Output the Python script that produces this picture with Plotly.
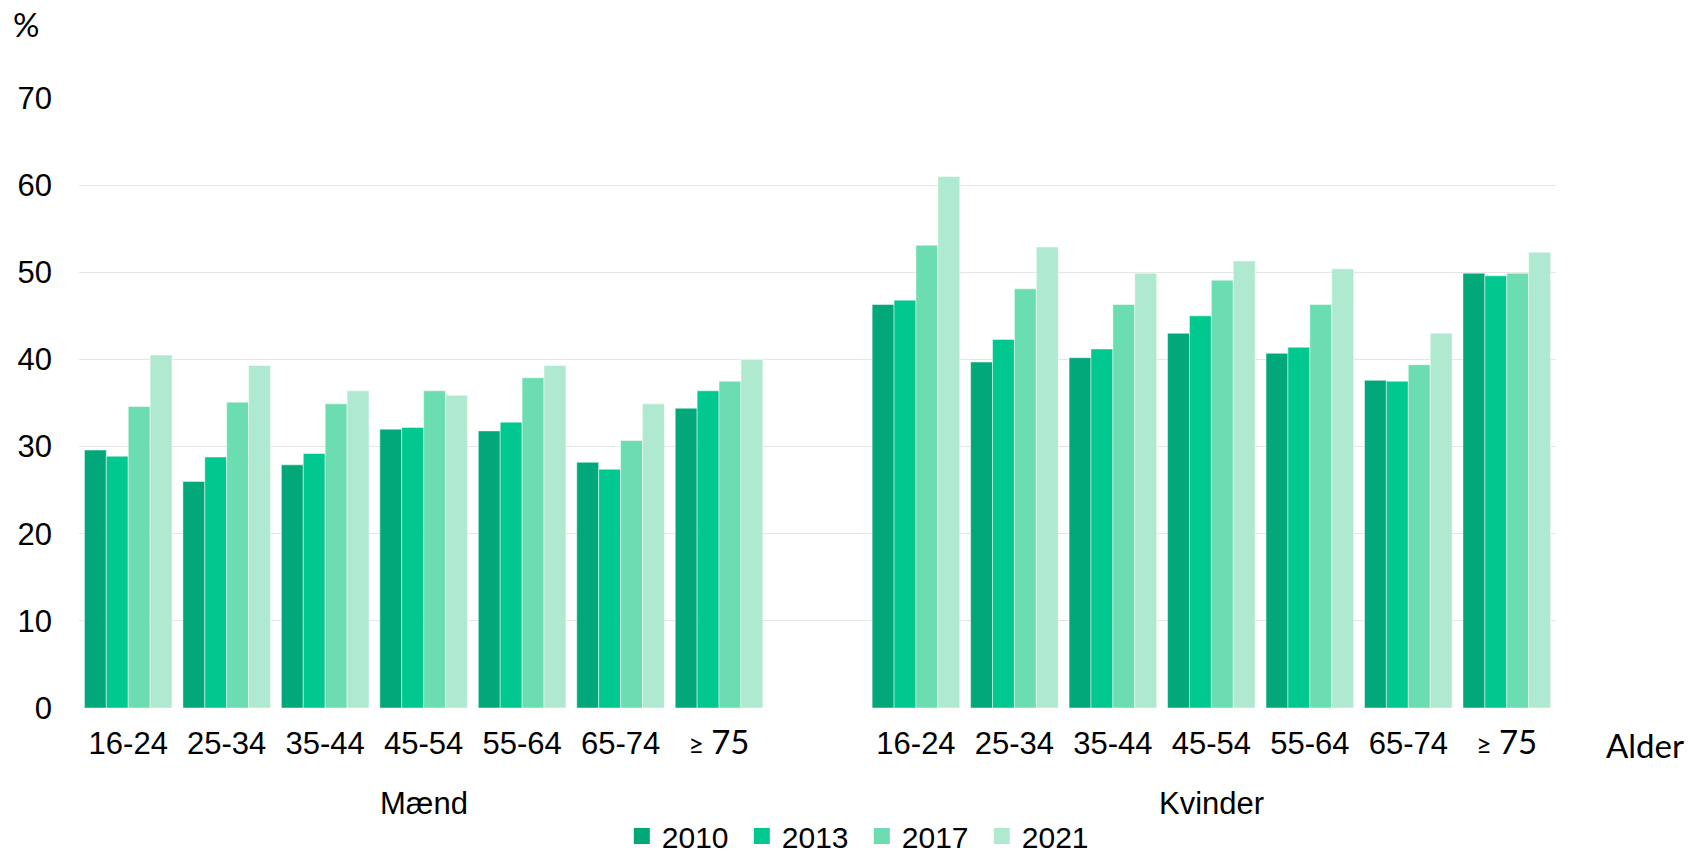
import plotly.graph_objects as go

# Age bands shown for each sex
ages = ["16-24", "25-34", "35-44", "45-54", "55-64", "65-74", "≥ 75"]
sexes = ["Mænd", "Kvinder"]
years = ["2010", "2013", "2017", "2021"]

# Share (%) by survey year, men
maend_2010 = [29.6, 26.0, 27.9, 32.0, 31.8, 28.2, 34.4]
maend_2013 = [28.9, 28.8, 29.2, 32.2, 32.8, 27.4, 36.4]
maend_2017 = [34.6, 35.1, 34.9, 36.4, 37.9, 30.7, 37.5]
maend_2021 = [40.5, 39.3, 36.4, 35.9, 39.3, 34.9, 40.0]

# Share (%) by survey year, women
kvinder_2010 = [46.3, 39.7, 40.2, 43.0, 40.7, 37.6, 49.9]
kvinder_2013 = [46.8, 42.3, 41.2, 45.0, 41.4, 37.5, 49.6]
kvinder_2017 = [53.1, 48.1, 46.3, 49.1, 46.3, 39.4, 49.9]
kvinder_2021 = [61.0, 52.9, 49.9, 51.3, 50.4, 43.0, 52.3]

y_ticks = [0, 10, 20, 30, 40, 50, 60, 70]

colors = ["#02A87A", "#00C88E", "#6BDDB0", "#AFEAD0"]

series = {
    "2010": maend_2010 + kvinder_2010,
    "2013": maend_2013 + kvinder_2013,
    "2017": maend_2017 + kvinder_2017,
    "2021": maend_2021 + kvinder_2021,
}

# Men on slots 0..6, one empty slot, women on slots 8..14
n = len(ages)
x_pos = list(range(n)) + [n + 1 + i for i in range(n)]


def tick_label(a):
    if a.startswith("≥"):
        return ("<span style='font-family:Lato;font-size:27px'>≥ </span>"
                "<span style='font-family:Lato;font-size:33px'>75</span>")
    return a


tick_text = [tick_label(a) for a in ages] * 2

fig = go.Figure()
for yr, col in zip(years, colors):
    fig.add_trace(go.Bar(
        x=x_pos,
        y=series[yr],
        name=yr,
        legendgroup=yr,
        showlegend=False,
        marker=dict(color=col, line=dict(color="rgba(255,255,255,0.6)", width=0.8)),
    ))
    # legend key drawn as a larger square swatch
    fig.add_trace(go.Scatter(
        x=[None], y=[None],
        mode="markers",
        name=yr,
        legendgroup=yr,
        marker=dict(symbol="square", size=16, color=col),
        hoverinfo="skip",
    ))

AXIS_FONT = dict(family="Liberation Sans, Arial, sans-serif", size=31, color="#000000")

fig.update_layout(
    width=1693,
    height=853,
    margin=dict(l=79, r=137, t=98, b=145, autoexpand=False),
    paper_bgcolor="white",
    plot_bgcolor="white",
    barmode="group",
    bargap=0.11,
    bargroupgap=0,
    font=AXIS_FONT,
    showlegend=True,
    legend=dict(
        orientation="h",
        x=0.530,
        xanchor="center",
        y=-0.210,
        yanchor="middle",
        font=dict(family="Liberation Sans, Arial, sans-serif", size=30, color="#000000"),
        itemwidth=30,
        entrywidth=75,
        entrywidthmode="pixels",
        traceorder="normal",
    ),
    xaxis=dict(
        range=[-0.5, 2 * n + 0.5],
        tickmode="array",
        tickvals=x_pos,
        ticktext=tick_text,
        showgrid=False,
        zeroline=False,
        showline=False,
        ticks="",
        ticklabelstandoff=14,
        tickfont=AXIS_FONT,
    ),
    yaxis=dict(
        range=[0, 70],
        tickmode="array",
        tickvals=y_ticks,
        showgrid=True,
        gridcolor="#E6E6E6",
        gridwidth=1,
        zeroline=False,
        showline=False,
        ticks="",
        ticklabelstandoff=26,
        tickfont=AXIS_FONT,
    ),
)

# Sex group labels under the age bands
for i, s in enumerate(sexes):
    center = (n - 1) / 2 + i * (n + 1)
    fig.add_annotation(
        x=center, xref="x", y=-0.157, yref="paper",
        text=s, showarrow=False, xanchor="center", yanchor="middle",
        font=AXIS_FONT,
    )

# Axis captions
fig.add_annotation(
    x=1.06, xref="paper", y=-0.06, yref="paper",
    text="Alder", showarrow=False, xanchor="center", yanchor="middle",
    font=dict(family="Lato, sans-serif", size=33, color="#000000"),
)
fig.add_annotation(
    x=-0.0359, xref="paper", y=1.122, yref="paper",
    text="%", showarrow=False, xanchor="center", yanchor="middle",
    font=dict(family="Lato, sans-serif", size=33, color="#000000"),
)

fig.write_html("out.html")
